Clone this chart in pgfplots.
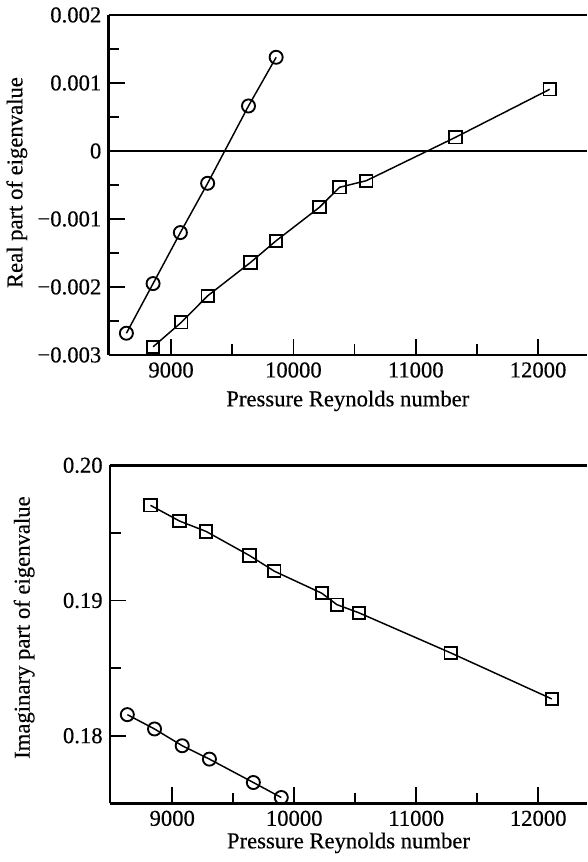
\documentclass[border=0pt]{standalone}
\usepackage{fontspec}
\setmainfont{Liberation Serif}[FakeBold=0.4]
\usepackage{pgfplots}
\pgfplotsset{compat=1.18}
\newcommand\tl[1]{\mbox{\fontsize{17}{20}\selectfont #1}}
\begin{document}
\begin{tikzpicture}
\useasboundingbox (0pt,0pt) rectangle (440.25pt,646.5pt);
\pgfplotsset{
  myaxis/.style={
    scale only axis,
    axis x line*=box, axis y line*=left,
    axis line style={line width=2pt},
    xmin=8490, xmax=12400,
    xtick={9000,10000,11000,12000},
    minor xtick={9500,10500,11500},
    xticklabels={\tl{9000},\tl{10000},\tl{11000},\tl{12000}},
    tick align=inside,
    tick style={line width=1.3pt, black},
    major tick length=12pt,
    minor tick length=8pt,
    xtick pos=bottom, ytick pos=left,
    label style={font=\fontsize{17}{20}\selectfont},
    xticklabel style={yshift=-2pt},
    yticklabel style={xshift=-2pt},
    scaled ticks=false,
    clip=false,
  },
  circ/.style={black, line width=1.1pt, mark=o, mark size=4.9pt, mark options={line width=1.4pt, fill=white}},
  sq/.style={black, line width=1.1pt, mark=square, mark size=4.6pt, mark options={line width=1.4pt, fill=white}},
}
\begin{axis}[myaxis,
  at={(81.5pt,380.25pt)}, anchor=south west,
  width=358.75pt, height=255pt,
  ymin=-0.003, ymax=0.002,
  ytick={-0.003,-0.002,-0.001,0,0.001,0.002},
  minor ytick={-0.0025,-0.0015,-0.0005,0.0005,0.0015},
  yticklabels={\tl{−0.003},\tl{−0.002},\tl{−0.001},\tl{0},\tl{0.001},\tl{0.002}},
  xlabel={Pressure Reynolds number},
  ylabel={Real part of eigenvalue},
  xlabel style={at={(axis description cs:0.5,-0.135)}, anchor=center},
  ylabel style={at={(axis description cs:-0.192,0.507)}, anchor=center},
]
\addplot[black, line width=1.1pt, forget plot] coordinates {(8490,0) (12400,0)};
\addplot[circ] coordinates {
(8635,-0.00268) (8853,-0.00195) (9076,-0.00120) (9299,-0.000475) (9633,0.000662) (9859,0.001378)
};
\addplot[sq] coordinates {
(8853,-0.00288) (9084,-0.00252) (9299,-0.00213) (9649,-0.00164) (9859,-0.00132)
(10213,-0.000828) (10377,-0.000534) (10596,-0.000437) (11325,0.000201) (12095,0.000907)
};
\end{axis}
\begin{axis}[myaxis,
  at={(82.5pt,44pt)}, anchor=south west,
  width=357.75pt, height=253.5pt,
  ymin=0.175, ymax=0.20,
  ytick={0.18,0.19,0.20},
  minor ytick={0.185,0.195},
  yticklabels={\tl{0.18},\tl{0.19},\tl{0.20}},
  xlabel={Pressure Reynolds number},
  ylabel={Imaginary part of eigenvalue},
  xlabel style={at={(axis description cs:0.5,-0.117)}, anchor=center},
  ylabel style={at={(axis description cs:-0.180,0.52)}, anchor=center},
]
\addplot[sq] coordinates {
(8822,0.19704) (9060,0.19588) (9278,0.19511) (9633,0.19333) (9837,0.19217)
(10226,0.19054) (10349,0.18970) (10531,0.18909) (11282,0.18613) (12112,0.18272)
};
\addplot[circ] coordinates {
(8632,0.18156) (8855,0.18050) (9082,0.17926) (9305,0.17827) (9665,0.17654) (9894,0.17543)
};
\end{axis}
\end{tikzpicture}
\end{document}
